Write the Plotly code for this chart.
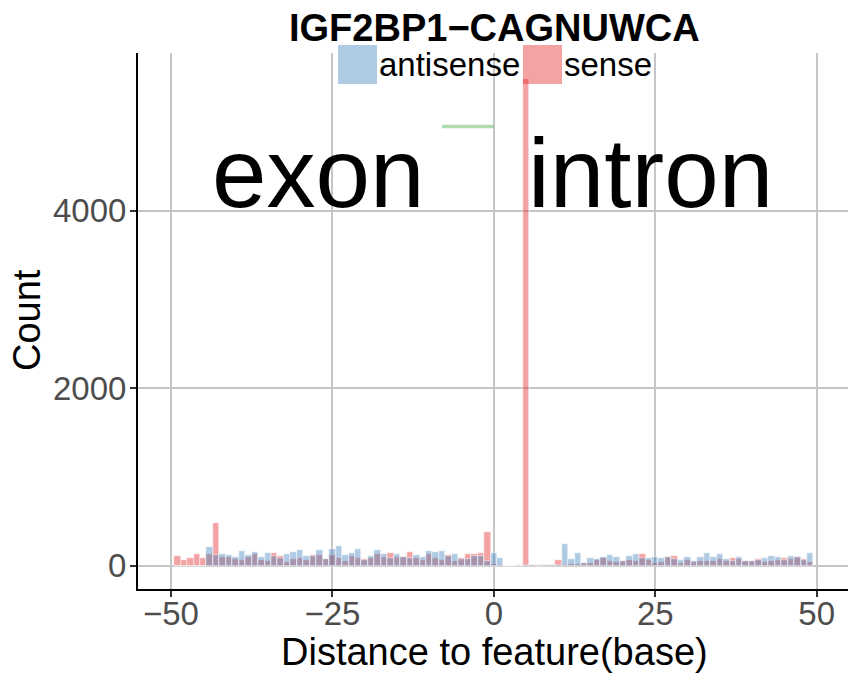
import plotly.graph_objects as go

# ---- data ----
distance = list(range(-49, 50))

sense = [107, 62, 84, 130, 84, 130, 478, 96, 96, 73,
         62, 96, 130, 62, 50, 140, 107, 40, 73, 84,
         62, 118, 118, 73, 118, 84, 50, 107, 84, 73,
         84, 130, 96, 140, 96, 96, 152, 84, 62, 130,
         84, 62, 118, 50, 84, 130, 130, 140, 377, 20,
         3, 0, 0, 5, 5490, 5, 0, 8, 12, 62,
         10, 15, 15, 32, 32, 62, 84, 50, 40, 50,
         62, 50, 130, 62, 28, 40, 96, 107, 28, 62,
         40, 50, 50, 50, 73, 50, 84, 73, 50, 50,
         73, 40, 50, 62, 84, 73, 96, 73, 40]

antisense = [0, 0, 0, 0, 0, 208, 118, 130, 118, 96,
             163, 118, 152, 96, 140, 107, 84, 130, 152, 174,
             107, 107, 174, 73, 186, 219, 118, 140, 186, 62,
             107, 174, 130, 84, 130, 100, 84, 118, 96, 163,
             152, 163, 107, 130, 73, 73, 107, 107, 50, 140,
             84, 0, 0, 0, 3, 5, 5, 8, 12, 10,
             242, 73, 140, 32, 84, 73, 96, 118, 96, 50,
             107, 130, 84, 84, 96, 84, 96, 73, 62, 96,
             50, 96, 140, 96, 130, 73, 50, 96, 50, 50,
             62, 84, 107, 96, 62, 107, 96, 62, 140]

series_names = ["antisense", "sense"]
title_text = "IGF2BP1\u2212CAGNUWCA"
x_ticks = [-50, -25, 0, 25, 50]
y_ticks = [0, 2000, 4000]
region_labels = ["exon", "intron"]
region_label_x = [-27.2, 24.3]
region_label_y = 4000
segment_x = [-8, 0]
segment_y = [4950, 4950]

RED = "rgba(228,26,28,0.4)"
BLUE = "rgba(55,126,184,0.4)"
GREEN = "rgba(77,175,74,0.45)"
FONT = "Liberation Sans, Arial, sans-serif"

W, H = 848, 673
L, R, T, B = 138, 0, 53, 84
pw, ph = W - L - R, H - T - B


def px_x(p):
    return (p - L) / pw


def px_y(p):
    return (H - B - p) / ph


fig = go.Figure()
fig.add_trace(go.Bar(x=distance, y=sense, width=1, name="sense",
                     marker=dict(color=RED, line=dict(color="white", width=0.5)),
                     showlegend=False))
fig.add_trace(go.Bar(x=distance, y=antisense, width=1, name="antisense",
                     marker=dict(color=BLUE, line=dict(color="white", width=0.5)),
                     showlegend=False))
fig.add_trace(go.Scatter(x=segment_x, y=segment_y, mode="lines",
                         line=dict(color=GREEN, width=3.5), showlegend=False,
                         hoverinfo="skip"))

annotations = []
for lab, lx in zip(region_labels, region_label_x):
    annotations.append(dict(x=lx, y=region_label_y, xref="x", yref="y",
                            text=lab, showarrow=False, xanchor="center",
                            yanchor="bottom", yshift=-19,
                            font=dict(family=FONT, size=98, color="black")))

# title
annotations.append(dict(x=px_x(494), y=px_y(28), xref="paper", yref="paper",
                        text="<b>" + title_text + "</b>", showarrow=False,
                        xanchor="center", yanchor="middle",
                        font=dict(family=FONT, size=38, color="black")))
# axis titles
annotations.append(dict(x=px_x(494), y=px_y(652), xref="paper", yref="paper",
                        text="Distance to feature(base)", showarrow=False,
                        xanchor="center", yanchor="middle",
                        font=dict(family=FONT, size=38, color="black")))
annotations.append(dict(x=px_x(27), y=px_y(320), xref="paper", yref="paper",
                        text="Count", showarrow=False, textangle=-90,
                        xanchor="center", yanchor="middle",
                        font=dict(family=FONT, size=38, color="black")))

# custom legend
shapes = []
legend_cols = [BLUE, RED]
legend_box_x = [338, 523]
for name, col, bx in zip(series_names, legend_cols, legend_box_x):
    shapes.append(dict(type="rect", xref="paper", yref="paper",
                       x0=px_x(bx), x1=px_x(bx + 39), y0=px_y(84), y1=px_y(45),
                       fillcolor=col, line=dict(width=0), layer="above"))
    annotations.append(dict(x=px_x(bx + 39), y=px_y(65), xref="paper", yref="paper",
                            text=name, showarrow=False, xanchor="left",
                            yanchor="middle",
                            font=dict(family=FONT, size=33, color="black")))

axis_common = dict(showgrid=True, gridcolor="#C6C6C6", gridwidth=2,
                   zeroline=False, showline=True, linecolor="black", linewidth=2,
                   ticks="outside", ticklen=6, tickwidth=2, tickcolor="#333333",
                   tickfont=dict(family=FONT, size=33, color="#4D4D4D"))

fig.update_layout(
    width=W, height=H,
    margin=dict(l=L, r=R, t=T, b=B, autoexpand=False),
    paper_bgcolor="white", plot_bgcolor="white",
    barmode="overlay", bargap=0,
    showlegend=False,
    hovermode=False,
    xaxis=dict(range=[-55.1, 54.85], tickvals=x_ticks, ticklabelstandoff=-12,
               **axis_common),
    yaxis=dict(range=[-262, 5778], tickvals=y_ticks, tickformat="d",
               ticklabelstandoff=-3, **axis_common),
    annotations=annotations,
    shapes=shapes,
)

fig.write_html("out.html",
               config={"displayModeBar": False},
               post_script="document.body.style.margin='0px';"
                           "document.body.style.overflow='hidden';")
